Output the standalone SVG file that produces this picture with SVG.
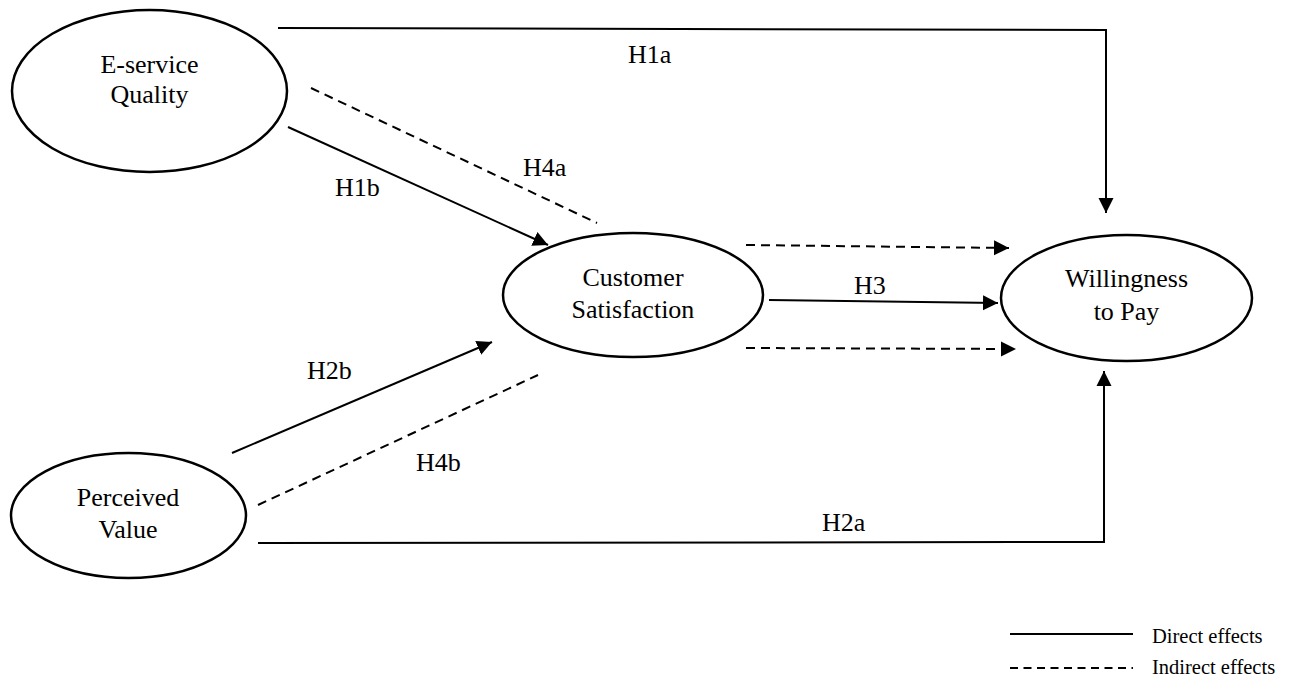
<svg xmlns="http://www.w3.org/2000/svg" width="1295" height="677" viewBox="0 0 1295 677">
<style>
  .node { fill: #ffffff; stroke: #000000; stroke-width: 2.5; }
  .lbl { font-family: "Liberation Serif", "Times New Roman", serif; font-size: 26px; fill: #000000; text-anchor: middle; }
  .hyp { font-family: "Liberation Serif", "Times New Roman", serif; font-size: 26px; fill: #000000; }
  .leg { font-family: "Liberation Serif", "Times New Roman", serif; font-size: 20.5px; fill: #000000; }
  .solid { fill: none; stroke: #000000; stroke-width: 2; }
  .dash { fill: none; stroke: #000000; stroke-width: 2; stroke-dasharray: 9 6; }
</style>
<defs>
  <marker id="arrow" markerUnits="userSpaceOnUse" markerWidth="16" markerHeight="16" viewBox="0 0 16 16" refX="15" refY="8" orient="auto">
    <path d="M0,0.5 L15,8 L0,15.5 z" fill="#000000"/>
  </marker>
</defs>
<rect width="1295" height="677" fill="#ffffff"/>

<g id="connectors">
  <polyline class="solid" points="278,28 1106,30 1106,213" marker-end="url(#arrow)"/>
  <line class="solid" x1="288" y1="127" x2="548" y2="245" marker-end="url(#arrow)"/>
  <line class="dash" x1="311" y1="88" x2="597" y2="223"/>
  <line class="solid" x1="232" y1="453" x2="492" y2="342" marker-end="url(#arrow)"/>
  <line class="dash" x1="258" y1="505" x2="538" y2="375"/>
  <polyline class="solid" points="258,543 1104,542 1104,371" marker-end="url(#arrow)"/>
  <line class="solid" x1="769" y1="300" x2="998" y2="303" marker-end="url(#arrow)"/>
  <line class="dash" x1="746" y1="245" x2="1009" y2="248" marker-end="url(#arrow)"/>
  <line class="dash" x1="746" y1="348" x2="1016" y2="349" marker-end="url(#arrow)"/>
  <text class="hyp" x="628" y="63">H1a</text>
  <text class="hyp" x="335" y="196">H1b</text>
  <text class="hyp" x="523" y="176">H4a</text>
  <text class="hyp" x="307" y="379">H2b</text>
  <text class="hyp" x="416" y="471">H4b</text>
  <text class="hyp" x="822" y="531">H2a</text>
  <text class="hyp" x="854" y="294">H3</text>
</g>

<g id="eservice">
  <ellipse class="node" cx="149.5" cy="91" rx="137.5" ry="81"/>
  <text class="lbl" x="149.5" y="73">E-service</text>
  <text class="lbl" x="149.5" y="103">Quality</text>
</g>
<g id="satisfaction">
  <ellipse class="node" cx="633" cy="295" rx="130" ry="62"/>
  <text class="lbl" x="633" y="286">Customer</text>
  <text class="lbl" x="633" y="318">Satisfaction</text>
</g>
<g id="willingness">
  <ellipse class="node" cx="1126.5" cy="298" rx="125.5" ry="63"/>
  <text class="lbl" x="1126.5" y="287">Willingness</text>
  <text class="lbl" x="1126.5" y="320">to Pay</text>
</g>
<g id="value">
  <ellipse class="node" cx="128.5" cy="515.5" rx="117.5" ry="62.5"/>
  <text class="lbl" x="128" y="506">Perceived</text>
  <text class="lbl" x="128" y="538">Value</text>
</g>

<g id="legend">
  <line class="solid" x1="1010" y1="634" x2="1133" y2="634"/>
  <text class="leg" x="1152" y="643">Direct effects</text>
  <line class="solid" x1="1010" y1="668" x2="1133" y2="668" stroke-dasharray="8 5.5"/>
  <text class="leg" x="1152" y="674">Indirect effects</text>
</g>
</svg>
